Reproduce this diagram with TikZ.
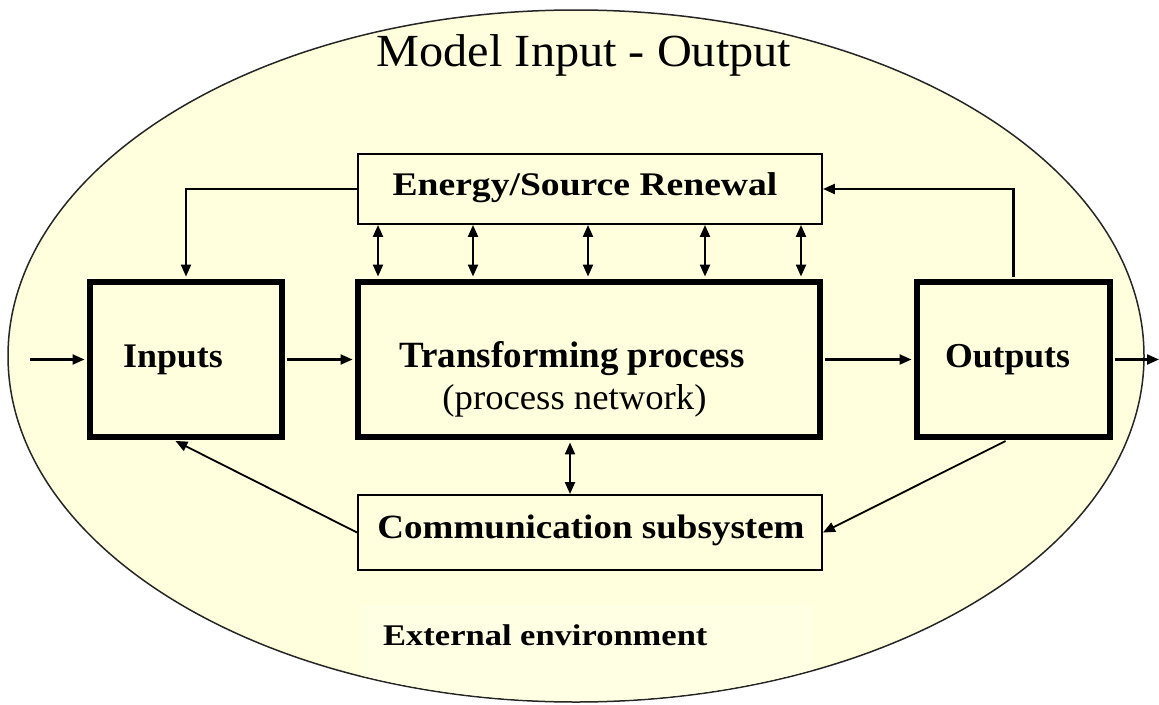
\documentclass[tikz,border=0pt]{standalone}
\usepackage{fontspec}
\setmainfont{Liberation Serif}
\usepackage{graphicx}
\usetikzlibrary{arrows.meta}

\definecolor{envfill}{RGB}{255,255,221}
\definecolor{notefill}{RGB}{255,255,228}
\newcommand\widetext[2]{\scalebox{#1}[1]{#2}}

\tikzset{
  thinbox/.style={draw, line width=1.9pt, inner sep=0pt, fill=envfill},
  thickbox/.style={draw, line width=5.5pt, inner sep=0pt, fill=envfill},
  tip/.tip={Triangle[length=12pt,width=10pt]},
  flow/.style={line width=2.2pt, -tip},
  twoway/.style={line width=2.2pt, tip-tip},
  lbl/.style={inner sep=0pt, anchor=base},
}

\begin{document}
\begin{tikzpicture}[x=1pt,y=-1pt]
\useasboundingbox (0,0) rectangle (1159,704);

% surrounding environment
\draw[fill=envfill, line width=1.5pt, draw=black!85] (576,356) ellipse [x radius=568pt, y radius=346pt];
\begin{scope}
  \clip (576,356) ellipse [x radius=567pt, y radius=345pt];
  \node[fill=notefill, inner sep=0pt, minimum width=452pt, minimum height=95pt] (envnote) at (587,652) {};
\end{scope}

% boxes
\node[thinbox, minimum width=464pt, minimum height=70pt] (energy) at (590,189) {};
\node[thickbox, minimum width=192pt, minimum height=155pt] (inputs) at (186,359.5) {};
\node[thickbox, minimum width=462pt, minimum height=155pt] (trans) at (589,359.5) {};
\node[thickbox, minimum width=193pt, minimum height=155pt] (outputs) at (1013.5,359.5) {};
\node[thinbox, minimum width=464pt, minimum height=75pt] (comm) at (590,532.5) {};

% texts
\node[lbl] (title) at (584,66) {\fontsize{46}{50}\selectfont\widetext{1.05}{Model Input - Output}};
\node[lbl] (energytxt) at (585,195) {\bfseries\fontsize{33}{36}\selectfont\widetext{1.14}{Energy/Source Renewal}};
\node[lbl] (inputstxt) at (173,367) {\bfseries\fontsize{34.5}{38}\selectfont\widetext{1.04}{Inputs}};
\node[lbl] (outputstxt) at (1007.5,367) {\bfseries\fontsize{35}{38}\selectfont\widetext{1.02}{Outputs}};
\node[lbl] (transtxt) at (572,367) {\bfseries\fontsize{37}{40}\selectfont Transforming process};
\node[lbl] (transsub) at (574.5,409) {\fontsize{36}{40}\selectfont\widetext{1.02}{(process network)}};
\node[lbl] (commtxt) at (591,538) {\bfseries\fontsize{34}{38}\selectfont\widetext{1.09}{Communication subsystem}};
\node[lbl, anchor=base west] (envtxt) at (383,645) {\bfseries\fontsize{30}{34}\selectfont\widetext{1.15}{External environment}};

% free ends of the main flow
\coordinate (src) at (30,359.5);
\coordinate (sink) at (1159,359.5);

% main flow
\draw[flow, shorten >=2.7pt] (src) -- (inputs.west);
\draw[flow, shorten <=2.7pt, shorten >=2.7pt] (inputs.east) -- (trans.west);
\draw[flow, shorten <=2.7pt, shorten >=2.7pt] (trans.east) -- (outputs.west);
\draw[flow, shorten <=2.7pt] (outputs.east) -- (sink);

% energy renewal loop
\draw[flow, shorten >=2.7pt] (energy.west) -| (inputs.north);
\draw[flow, shorten <=2.7pt] (outputs.north) |- (energy.east);
\foreach \px in {378,473,588,705,801}
  \draw[twoway, shorten >=2.7pt] (\px,0 |- energy.south) -- (\px,0 |- trans.north);

% communication loop
\draw[twoway, shorten <=2.7pt] (570,0 |- trans.south) -- (570,0 |- comm.north);
\draw[flow, line width=1.8pt, shorten <=2.7pt] ([xshift=-5.5pt]outputs.south) -- (comm.east);
\draw[flow, line width=1.8pt, shorten >=2.7pt] (comm.west) -- ([xshift=-13pt]inputs.south);
\end{tikzpicture}
\end{document}
